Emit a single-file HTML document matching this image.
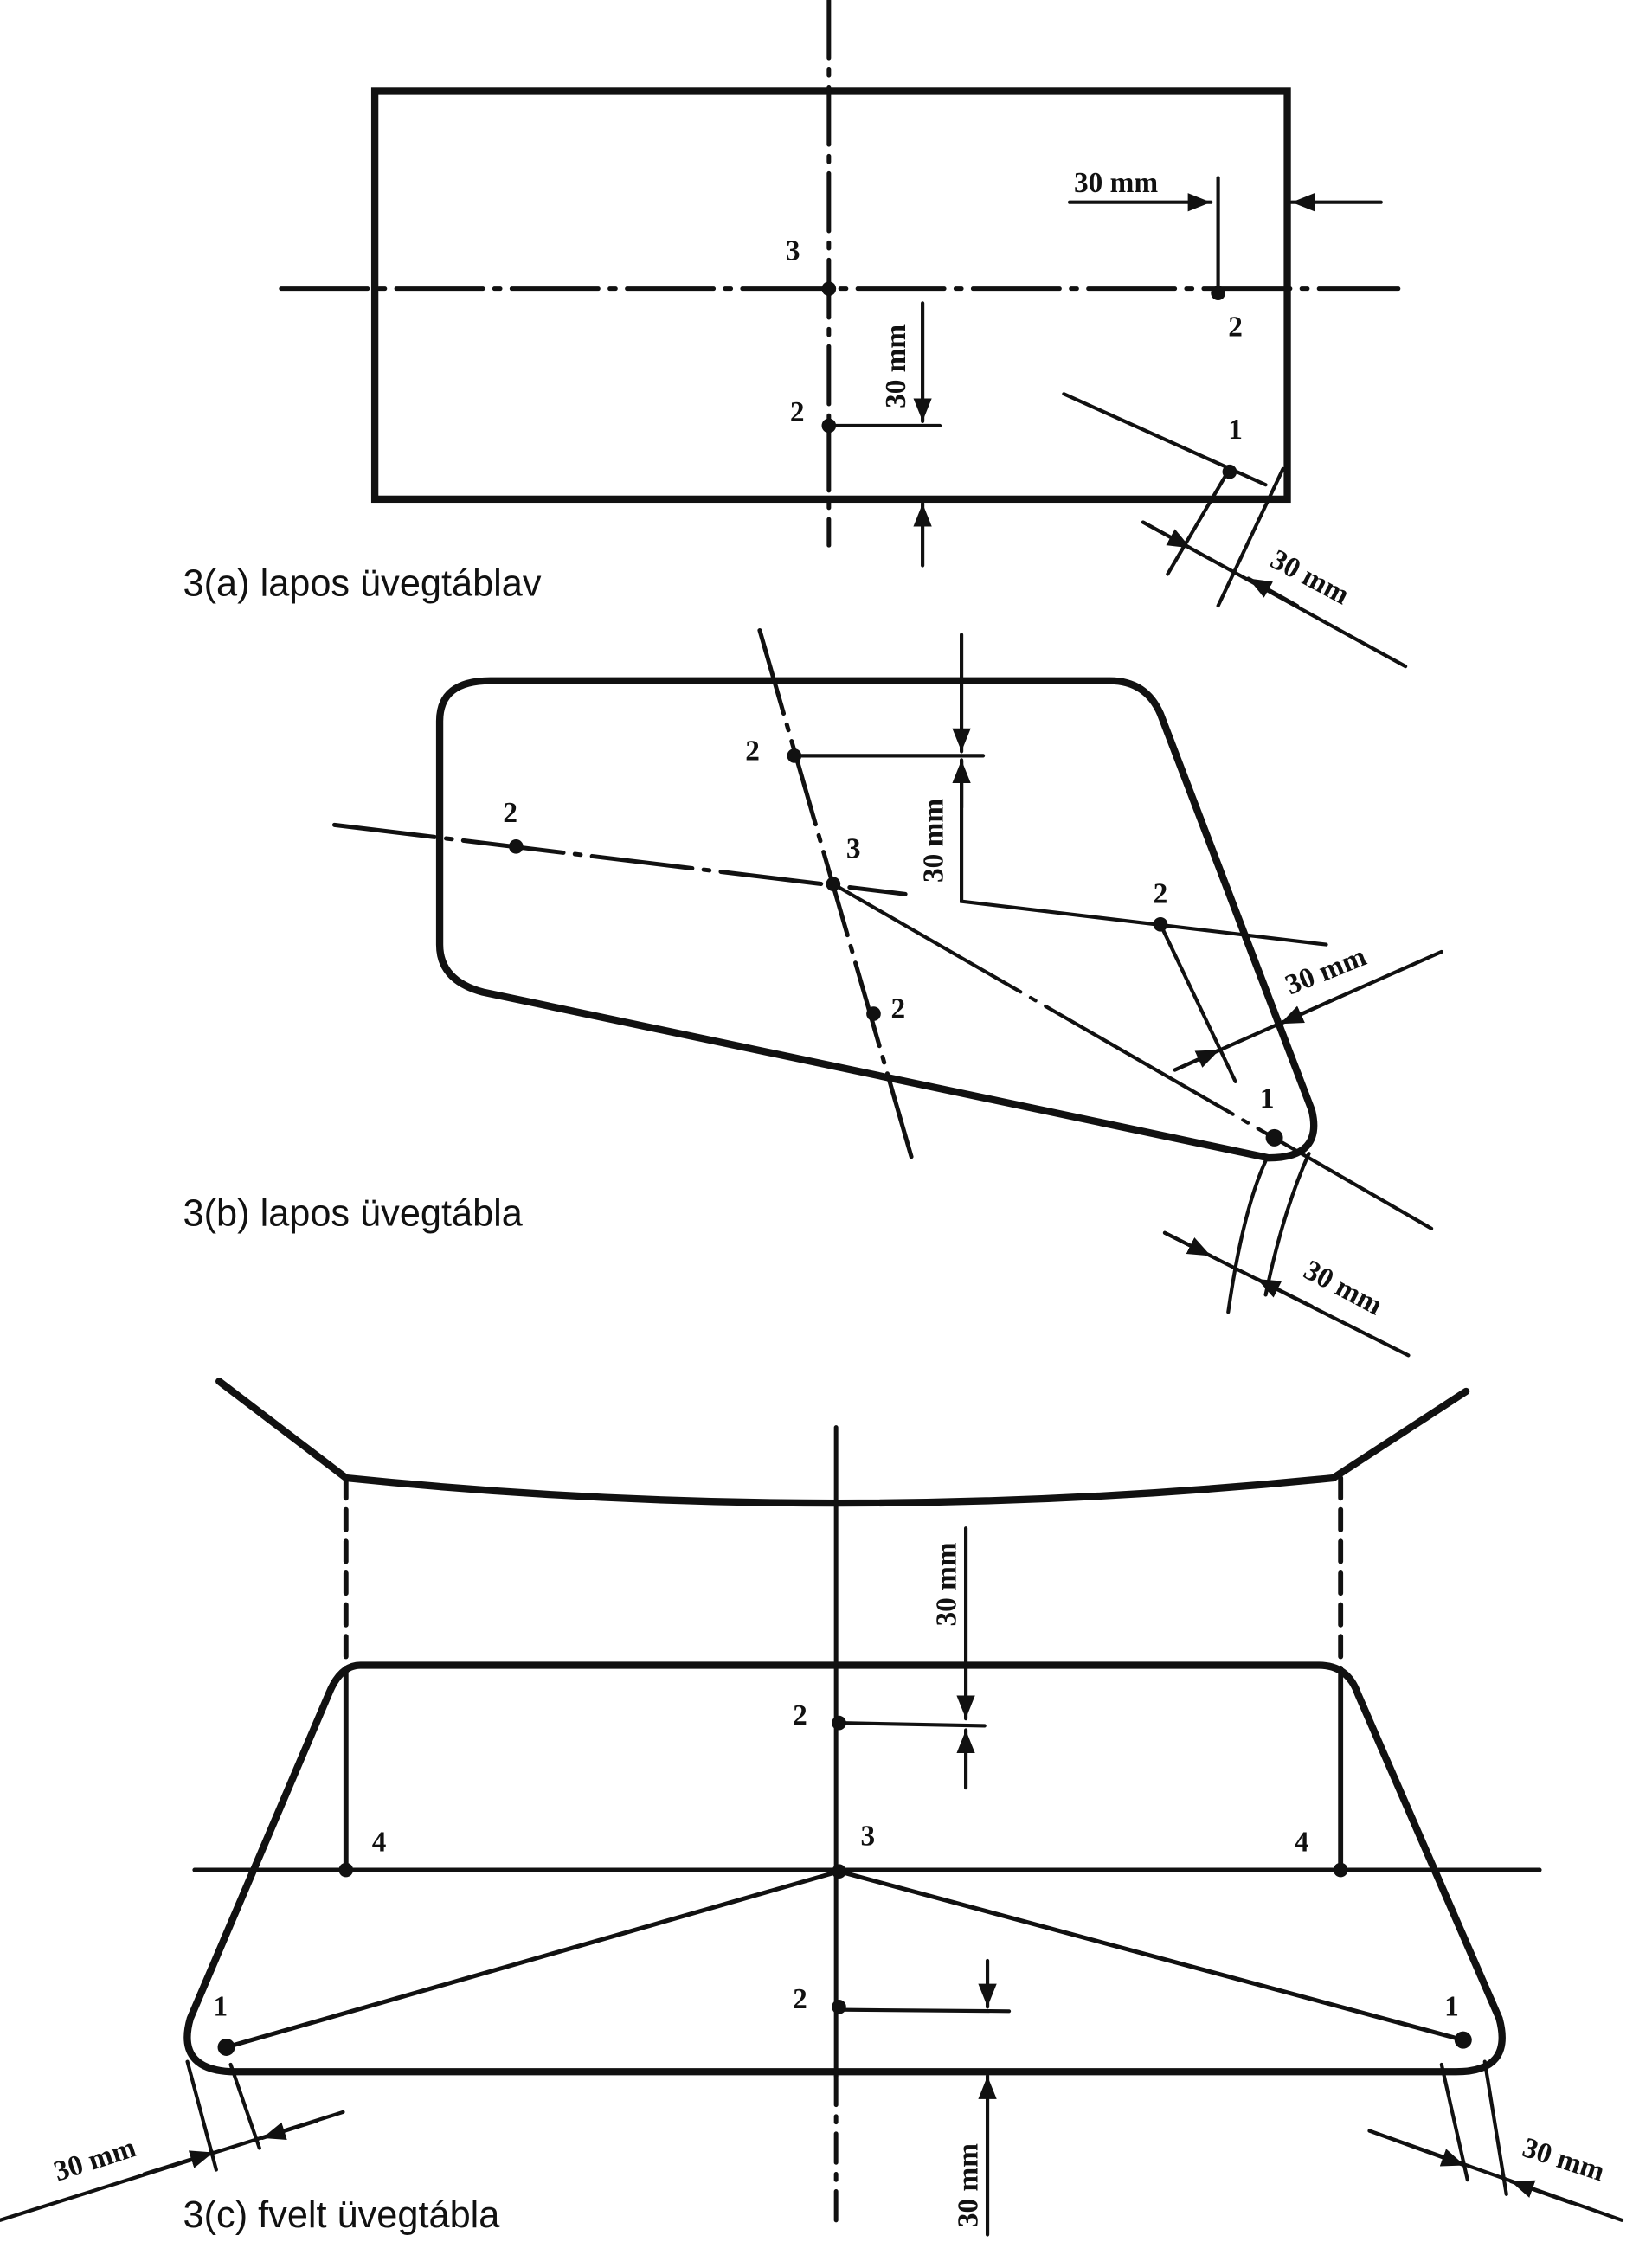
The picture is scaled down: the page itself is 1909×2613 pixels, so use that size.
<!DOCTYPE html>
<html><head><meta charset="utf-8"><style>
html,body{margin:0;padding:0;background:#fff;}
svg{display:block;}
text{font-family:"Liberation Serif",serif;font-weight:bold;fill:#111;}
.cap{font-family:"Liberation Sans",sans-serif;font-weight:normal;font-size:26px;}
</style></head><body>
<svg width="1909" height="2613" viewBox="0 0 1146 1568" xmlns="http://www.w3.org/2000/svg">
<defs>
<marker id="a" viewBox="0 0 10 10" refX="10" refY="5" markerWidth="16" markerHeight="16" orient="auto" markerUnits="userSpaceOnUse"><path d="M0,1 L10,5 L0,9 z" fill="#111"/></marker>
</defs>
<g stroke="#111" fill="none" stroke-linecap="round">
<!-- (a) -->
<rect x="260" y="63" width="633" height="283" stroke-width="5"/>
<line x1="575" y1="0" x2="575" y2="378" stroke-width="3" stroke-dasharray="40,8,4,8"/>
<line x1="195" y1="200" x2="970" y2="200" stroke-width="3" stroke-dasharray="60,8,4,8"/>
<line x1="845" y1="123" x2="845" y2="203" stroke-width="2.5"/>
<line x1="742" y1="140" x2="840" y2="140" stroke-width="2.5" marker-end="url(#a)"/>
<line x1="958" y1="140" x2="896" y2="140" stroke-width="2.5" marker-end="url(#a)"/>
<line x1="575" y1="295" x2="652" y2="295" stroke-width="2.5"/>
<line x1="640" y1="210" x2="640" y2="292" stroke-width="2.5" marker-end="url(#a)"/>
<line x1="640" y1="392" x2="640" y2="349" stroke-width="2.5" marker-end="url(#a)"/>
<line x1="738" y1="273" x2="878" y2="336" stroke-width="2.5"/>
<line x1="850" y1="330" x2="810" y2="398" stroke-width="2.5"/>
<line x1="890" y1="325" x2="845" y2="420" stroke-width="2.5"/>
<line x1="793" y1="362" x2="975" y2="462" stroke-width="2.5"/>
<line x1="793" y1="362" x2="826" y2="380" stroke-width="2.5" marker-end="url(#a)"/>
<line x1="900" y1="420" x2="866" y2="401" stroke-width="2.5" marker-end="url(#a)"/>
<!-- (b) -->
<path d="M340 472 L770 472 Q795 472 805 495 L910 770 Q918 803 880 803 L335 688 Q305 680 305 655 L305 500 Q305 472 340 472 Z" stroke-width="5"/>
<line x1="527" y1="437" x2="633" y2="805" stroke-width="3" stroke-dasharray="60,8,4,8"/>
<line x1="232" y1="572" x2="628" y2="620" stroke-width="3" stroke-dasharray="70,8,4,8"/>
<line x1="551" y1="524" x2="682" y2="524" stroke-width="2.5"/>
<line x1="667" y1="440" x2="667" y2="521" stroke-width="2.5" marker-end="url(#a)"/>
<polyline points="667,528 667,625 920,655" stroke-width="2.5"/>
<line x1="667" y1="560" x2="667" y2="527" stroke-width="2.5" marker-end="url(#a)"/>
<line x1="578" y1="613" x2="993" y2="852" stroke-width="2.5" stroke-dasharray="150,8,4,8"/>
<line x1="805" y1="641" x2="857" y2="750" stroke-width="2.5"/>
<line x1="815" y1="742" x2="1000" y2="660" stroke-width="2.5"/>
<line x1="815" y1="742" x2="846" y2="728" stroke-width="2.5" marker-end="url(#a)"/>
<line x1="930" y1="691" x2="888" y2="710" stroke-width="2.5" marker-end="url(#a)"/>
<path d="M878 805 Q862 840 852 910" stroke-width="2.5"/>
<path d="M908 800 Q890 840 878 898" stroke-width="2.5"/>
<line x1="808" y1="855" x2="977" y2="940" stroke-width="2.5"/>
<line x1="808" y1="855" x2="840" y2="871" stroke-width="2.5" marker-end="url(#a)"/>
<line x1="910" y1="906" x2="872" y2="887" stroke-width="2.5" marker-end="url(#a)"/>
<!-- (c) -->
<path d="M152 958 L240 1025 Q580 1060 925 1025 L1017 965" stroke-width="5"/>
<line x1="240" y1="1025" x2="240" y2="1160" stroke-width="3.5" stroke-dasharray="14,8"/>
<line x1="930" y1="1025" x2="930" y2="1160" stroke-width="3.5" stroke-dasharray="14,8"/>
<line x1="240" y1="1160" x2="240" y2="1297" stroke-width="3.5"/>
<line x1="930" y1="1160" x2="930" y2="1297" stroke-width="3.5"/>
<path d="M250 1155 L915 1155 Q935 1155 942 1175 L1040 1400 Q1050 1437 1010 1437 L160 1437 Q122 1435 132 1400 L228 1175 Q236 1155 250 1155 Z" stroke-width="5"/>
<line x1="135" y1="1297" x2="1068" y2="1297" stroke-width="3"/>
<line x1="580" y1="990" x2="580" y2="1440" stroke-width="3"/>
<line x1="580" y1="1440" x2="580" y2="1540" stroke-width="3" stroke-dasharray="20,8,4,8"/>
<line x1="582" y1="1298" x2="157" y2="1420" stroke-width="3"/>
<line x1="582" y1="1298" x2="1015" y2="1415" stroke-width="3"/>
<line x1="582" y1="1195" x2="683" y2="1197" stroke-width="2.5"/>
<line x1="670" y1="1060" x2="670" y2="1192" stroke-width="2.5" marker-end="url(#a)"/>
<line x1="670" y1="1240" x2="670" y2="1200" stroke-width="2.5" marker-end="url(#a)"/>
<line x1="582" y1="1394" x2="700" y2="1395" stroke-width="2.5"/>
<line x1="685" y1="1360" x2="685" y2="1392" stroke-width="2.5" marker-end="url(#a)"/>
<line x1="685" y1="1550" x2="685" y2="1440" stroke-width="2.5" marker-end="url(#a)"/>
<line x1="130" y1="1430" x2="150" y2="1505" stroke-width="2.5"/>
<line x1="160" y1="1432" x2="180" y2="1490" stroke-width="2.5"/>
<line x1="0" y1="1540" x2="238" y2="1465" stroke-width="2.5"/>
<line x1="100" y1="1508" x2="148" y2="1493" stroke-width="2.5" marker-end="url(#a)"/>
<line x1="220" y1="1471" x2="182" y2="1483" stroke-width="2.5" marker-end="url(#a)"/>
<line x1="1000" y1="1432" x2="1018" y2="1512" stroke-width="2.5"/>
<line x1="1030" y1="1430" x2="1045" y2="1522" stroke-width="2.5"/>
<line x1="950" y1="1478" x2="1125" y2="1540" stroke-width="2.5"/>
<line x1="950" y1="1478" x2="1016" y2="1502" stroke-width="2.5" marker-end="url(#a)"/>
<line x1="1090" y1="1528" x2="1048" y2="1513" stroke-width="2.5" marker-end="url(#a)"/>
</g>
<g fill="#111">
<circle cx="575" cy="200" r="5"/><circle cx="845" cy="203" r="5"/><circle cx="575" cy="295" r="5"/><circle cx="853" cy="327" r="5"/>
<circle cx="358" cy="587" r="5"/><circle cx="551" cy="524" r="5"/><circle cx="578" cy="613" r="5"/><circle cx="805" cy="641" r="5"/><circle cx="606" cy="703" r="5"/><circle cx="884" cy="789" r="6"/>
<circle cx="582" cy="1298" r="5"/><circle cx="240" cy="1297" r="5"/><circle cx="930" cy="1297" r="5"/><circle cx="582" cy="1195" r="5"/><circle cx="582" cy="1392" r="5"/><circle cx="157" cy="1420" r="6"/><circle cx="1015" cy="1415" r="6"/>
</g>
<g font-size="20">
<text x="545" y="180">3</text><text x="852" y="233">2</text><text x="548" y="292">2</text><text x="852" y="304">1</text>
<text x="745" y="133">30 mm</text>
<text transform="translate(628,283) rotate(-90)">30 mm</text>
<text transform="translate(880,392) rotate(28)">30 mm</text>
<text x="517" y="527">2</text><text x="349" y="570">2</text><text x="587" y="595">3</text><text x="800" y="626">2</text><text x="618" y="706">2</text><text x="874" y="768">1</text>
<text transform="translate(654,612) rotate(-90)">30 mm</text>
<text transform="translate(895,690) rotate(-22)">30 mm</text>
<text transform="translate(903,885) rotate(28)">30 mm</text>
<text x="550" y="1196">2</text><text x="597" y="1280">3</text><text x="258" y="1284">4</text><text x="898" y="1284">4</text><text x="550" y="1393">2</text><text x="148" y="1398">1</text><text x="1002" y="1398">1</text>
<text transform="translate(663,1128) rotate(-90)">30 mm</text>
<text transform="translate(678,1545) rotate(-90)">30 mm</text>
<text transform="translate(40,1513) rotate(-18)">30 mm</text>
<text transform="translate(1055,1495) rotate(18)">30 mm</text>
</g>
<text class="cap" x="127" y="413">3(a) lapos üvegtáblav</text>
<text class="cap" x="127" y="850">3(b) lapos üvegtábla</text>
<text class="cap" x="127" y="1545">3(c) fvelt üvegtábla</text>
</svg>
</body></html>
